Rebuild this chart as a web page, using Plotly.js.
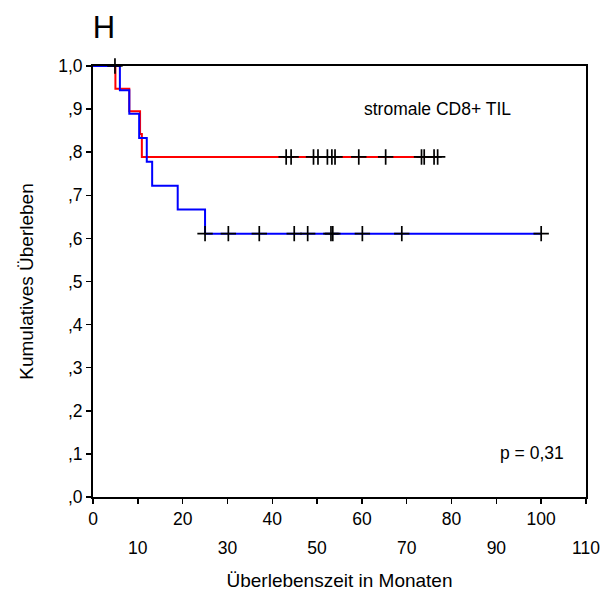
<!DOCTYPE html>
<html>
<head>
<meta charset="utf-8">
<script src="https://cdn.plot.ly/plotly-3.0.1.min.js"></script>
<style>html,body{margin:0;padding:0;background:#fff}#chart{width:616px;height:614px}</style>
</head>
<body>
<div id="chart"></div>
<script>
// ---- data ----
const redEventTimes = [0, 5.0, 8.1, 10.5, 10.9];
const redSurvival   = [1.0, 0.947, 0.895, 0.842, 0.789];
const redCensorTimes = [4.9, 43.1, 44.2, 49.2, 50.2, 52.3, 53.3, 54.0, 59.3, 65.3, 73.3, 73.9, 76.1, 76.9];

const blueEventTimes = [0, 6.0, 8.1, 10.3, 12.0, 13.2, 18.9, 25.0];
const blueSurvival   = [1.0, 0.944, 0.889, 0.833, 0.778, 0.722, 0.667, 0.611];
const blueCensorTimes = [25.0, 30.2, 37.1, 44.9, 47.9, 53.1, 53.5, 60.1, 68.9, 100.0];

const xEvenTicks = [0, 20, 40, 60, 80, 100];
const xOddTicks = [10, 30, 50, 70, 90, 110];
const yTickVals = [0, 0.1, 0.2, 0.3, 0.4, 0.5, 0.6, 0.7, 0.8, 0.9, 1.0];
const yTickText = [',0', ',1', ',2', ',3', ',4', ',5', ',6', ',7', ',8', ',9', '1,0'];

const titleText = 'H';
const xTitle = 'Überlebenszeit in Monaten';
const yTitle = 'Kumulatives Überleben';
const groupLabel = 'stromale CD8+ TIL';
const pLabel = 'p = 0,31';

// ---- helpers ----
function survAt(times, surv, t) {
  let s = surv[0];
  for (let i = 0; i < times.length; i++) if (times[i] <= t) s = surv[i];
  return s;
}
function stepLine(times, surv, censors) {
  const end = Math.max(...censors);
  return { x: times.concat([end]), y: surv.concat([surv[surv.length - 1]]) };
}

const FONT = 'Liberation Sans, Arial, sans-serif';
const redLine = stepLine(redEventTimes, redSurvival, redCensorTimes);
const blueLine = stepLine(blueEventTimes, blueSurvival, blueCensorTimes);

const censorMarker = { symbol: 'cross-thin-open', size: 11, color: '#000', line: { color: '#000', width: 1.7 } };

const traces = [
  { x: redLine.x, y: redLine.y, mode: 'lines', line: { shape: 'hv', color: '#ff0000', width: 2 }, hoverinfo: 'skip', showlegend: false },
  { x: blueLine.x, y: blueLine.y, mode: 'lines', line: { shape: 'hv', color: '#0000ff', width: 2 }, hoverinfo: 'skip', showlegend: false },
  { x: redCensorTimes, y: redCensorTimes.map(t => survAt(redEventTimes, redSurvival, t)), mode: 'markers', marker: censorMarker, hoverinfo: 'skip', showlegend: false, cliponaxis: false },
  { x: blueCensorTimes, y: blueCensorTimes.map(t => survAt(blueEventTimes, blueSurvival, t)), mode: 'markers', marker: censorMarker, hoverinfo: 'skip', showlegend: false, cliponaxis: false },
  { x: [null], y: [null], xaxis: 'x2', yaxis: 'y', mode: 'markers', hoverinfo: 'skip', showlegend: false }
];

const allXTicks = xEvenTicks.concat(xOddTicks).sort((a, b) => a - b);

const layout = {
  width: 616, height: 614,
  paper_bgcolor: '#fff', plot_bgcolor: '#fff',
  margin: { l: 93, r: 30, t: 66, b: 117 },
  font: { family: FONT, color: '#000', size: 17.5 },
  title: { text: titleText, x: 104 / 616, xanchor: 'center', y: 1 - 27 / 614, yanchor: 'middle', font: { size: 31, family: FONT, color: '#000' } },
  xaxis: {
    range: [0, 110], tickmode: 'array', tickvals: allXTicks,
    ticktext: allXTicks.map(v => xEvenTicks.includes(v) ? String(v) : ''),
    ticks: 'outside', ticklen: 5, tickwidth: 1.5, tickcolor: '#000',
    showline: true, linewidth: 2, linecolor: '#000', mirror: true,
    showgrid: false, zeroline: false, automargin: false,
    tickfont: { size: 17.5, family: FONT, color: '#000' },
    title: { text: xTitle, standoff: 46, font: { size: 19, family: FONT, color: '#000' } }
  },
  xaxis2: {
    overlaying: 'x', anchor: 'y', side: 'bottom', range: [0, 110],
    tickmode: 'array', tickvals: xOddTicks, ticktext: xOddTicks.map(String),
    ticks: '', showline: false, showgrid: false, zeroline: false, automargin: false,
    ticklabelstandoff: 38,
    tickfont: { size: 17.5, family: FONT, color: '#000' }
  },
  yaxis: {
    range: [0, 1], tickmode: 'array', tickvals: yTickVals, ticktext: yTickText,
    ticks: 'outside', ticklen: 5, tickwidth: 1.5, tickcolor: '#000',
    showline: true, linewidth: 2, linecolor: '#000', mirror: true,
    showgrid: false, zeroline: false, automargin: false,
    tickfont: { size: 17.5, family: FONT, color: '#000' },
    title: { text: yTitle, standoff: 20, font: { size: 19, family: FONT, color: '#000' } }
  },
  annotations: [
    { text: groupLabel, xref: 'paper', yref: 'paper', x: 0.545, y: 0.900, xanchor: 'left', yanchor: 'middle', showarrow: false, font: { size: 17.5, family: FONT, color: '#000' } },
    { text: pLabel, xref: 'paper', yref: 'paper', x: 0.822, y: 0.102, xanchor: 'left', yanchor: 'middle', showarrow: false, font: { size: 17.5, family: FONT, color: '#000' } }
  ]
};

Plotly.newPlot('chart', traces, layout, { displayModeBar: false, staticPlot: true });
</script>
</body>
</html>
